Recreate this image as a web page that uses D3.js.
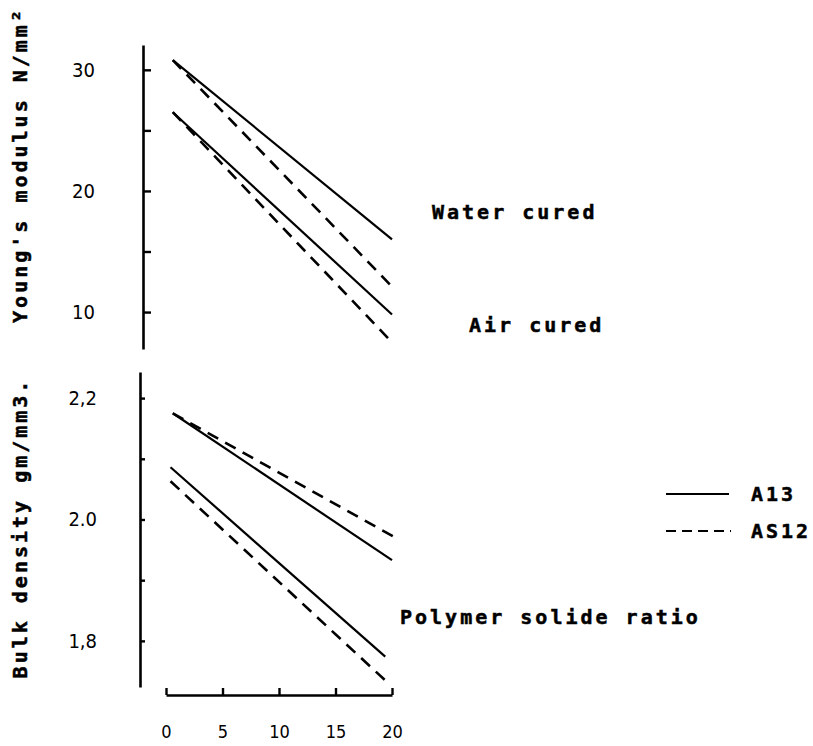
<!DOCTYPE html>
<html>
<head>
<meta charset="utf-8">
<script src="https://cdn.jsdelivr.net/npm/d3@7"></script>
<style>
  html, body { margin: 0; padding: 0; background: #fff; }
  svg { display: block; }
  .tick text { font-family: "DejaVu Sans", sans-serif; font-stretch: condensed; font-size: 20px; fill: #000; }
  .xaxis .tick text { font-size: 18px; }
  .lbl { font-family: "DejaVu Sans Mono", monospace; font-weight: bold; font-size: 20px; letter-spacing: 3px; fill: #000; stroke: #000; stroke-width: 0.5px; }
</style>
</head>
<body>
<script>
// ---- data ----
const xTicks = [0, 5, 10, 15, 20];
const xTickLabels = ["0", "5", "10", "15", "20"];

const topTicks = [30, 25, 20, 15, 10];
const topTickLabels = ["30", "", "20", "", "10"];
const botTicks = [2.2, 2.1, 2.0, 1.9, 1.8];
const botTickLabels = ["2,2", "", "2.0", "", "1,8"];

// Young's modulus (N/mm2) vs polymer solids ratio
const topX = [0.6, 20];
const waterA13 = [30.8, 16.0];
const waterAS12 = [30.8, 12.1];
const airA13 = [26.5, 9.8];
const airAS12 = [26.5, 7.5];

// Bulk density (gm/mm3)
const upperA13X = [0.6, 20];
const upperA13 = [2.175, 1.933];
const upperAS12X = [0.6, 20.3];
const upperAS12 = [2.175, 1.970];
const lowerA13X = [0.4, 19.4];
const lowerA13 = [2.086, 1.774];
const lowerAS12X = [0.4, 19.8];
const lowerAS12 = [2.063, 1.728];

const topDomain = [6.95, 32.05];
const botDomain = [1.724, 2.243];

const legendNames = ["A13", "AS12"];

// ---- drawing ----
const W = 813, H = 746;
const svg = d3.select("body").append("svg").attr("width", W).attr("height", H);

const x = d3.scaleLinear().domain([0, 20]).range([166, 392]);
const yTop = d3.scaleLinear().domain(topDomain).range([349, 45]);
const yBot = d3.scaleLinear().domain(botDomain).range([687, 372]);

function styleAxis(g) {
  g.select(".domain").attr("stroke", "#000").attr("stroke-width", 2.6);
  g.selectAll(".tick line").attr("stroke", "#000").attr("stroke-width", 2.4);
}

// top y axis
svg.append("g").attr("transform", "translate(143,0)")
  .call(d3.axisLeft(yTop).tickValues(topTicks)
    .tickFormat((d, i) => topTickLabels[i]).tickSizeInner(-8).tickSizeOuter(0).tickPadding(48))
  .call(styleAxis);

// bottom y axis
svg.append("g").attr("transform", "translate(140,0)")
  .call(d3.axisLeft(yBot).tickValues(botTicks)
    .tickFormat((d, i) => botTickLabels[i]).tickSizeInner(-5).tickSizeOuter(0).tickPadding(43))
  .call(styleAxis);

// x axis
svg.append("g").attr("class", "xaxis").attr("transform", "translate(0,695)")
  .call(d3.axisBottom(x).tickValues(xTicks)
    .tickFormat((d, i) => xTickLabels[i]).tickSizeInner(-7).tickSizeOuter(0).tickPadding(30))
  .call(styleAxis);

function drawLine(xs, ys, yScale, dashed) {
  const pts = xs.map((v, i) => [v, ys[i]]);
  svg.append("path")
    .attr("d", d3.line().x(d => x(d[0])).y(d => yScale(d[1]))(pts))
    .attr("fill", "none").attr("stroke", "#000")
    .attr("stroke-width", dashed ? 2.6 : 2.2)
    .attr("stroke-dasharray", dashed ? "12,8" : null);
}

drawLine(topX, waterA13, yTop, false);
drawLine(topX, waterAS12, yTop, true);
drawLine(topX, airA13, yTop, false);
drawLine(topX, airAS12, yTop, true);

drawLine(upperA13X, upperA13, yBot, false);
drawLine(upperAS12X, upperAS12, yBot, true);
drawLine(lowerA13X, lowerA13, yBot, false);
drawLine(lowerAS12X, lowerAS12, yBot, true);

// text labels
function label(txt, xp, yp, rot) {
  const t = svg.append("text").attr("class", "lbl").text(txt)
    .attr("dominant-baseline", "central");
  if (rot) {
    t.attr("text-anchor", "middle").attr("transform", `translate(${xp},${yp}) rotate(-90)`);
  } else {
    t.attr("x", xp).attr("y", yp);
  }
  return t;
}

label("Water cured", 432, 212);
label("Air cured", 469, 325);
label("Polymer solide ratio", 400, 617);
label("Young's modulus N/mm²", 20, 165, true);
label("Bulk density gm/mm3.", 20, 528, true);

// legend
svg.append("line").attr("x1", 666).attr("x2", 729).attr("y1", 494).attr("y2", 494)
  .attr("stroke", "#000").attr("stroke-width", 2);
svg.append("line").attr("x1", 666).attr("x2", 731).attr("y1", 531).attr("y2", 531)
  .attr("stroke", "#000").attr("stroke-width", 2).attr("stroke-dasharray", "10,6");
label(legendNames[0], 751, 494);
label(legendNames[1], 751, 531);
</script>
</body>
</html>
